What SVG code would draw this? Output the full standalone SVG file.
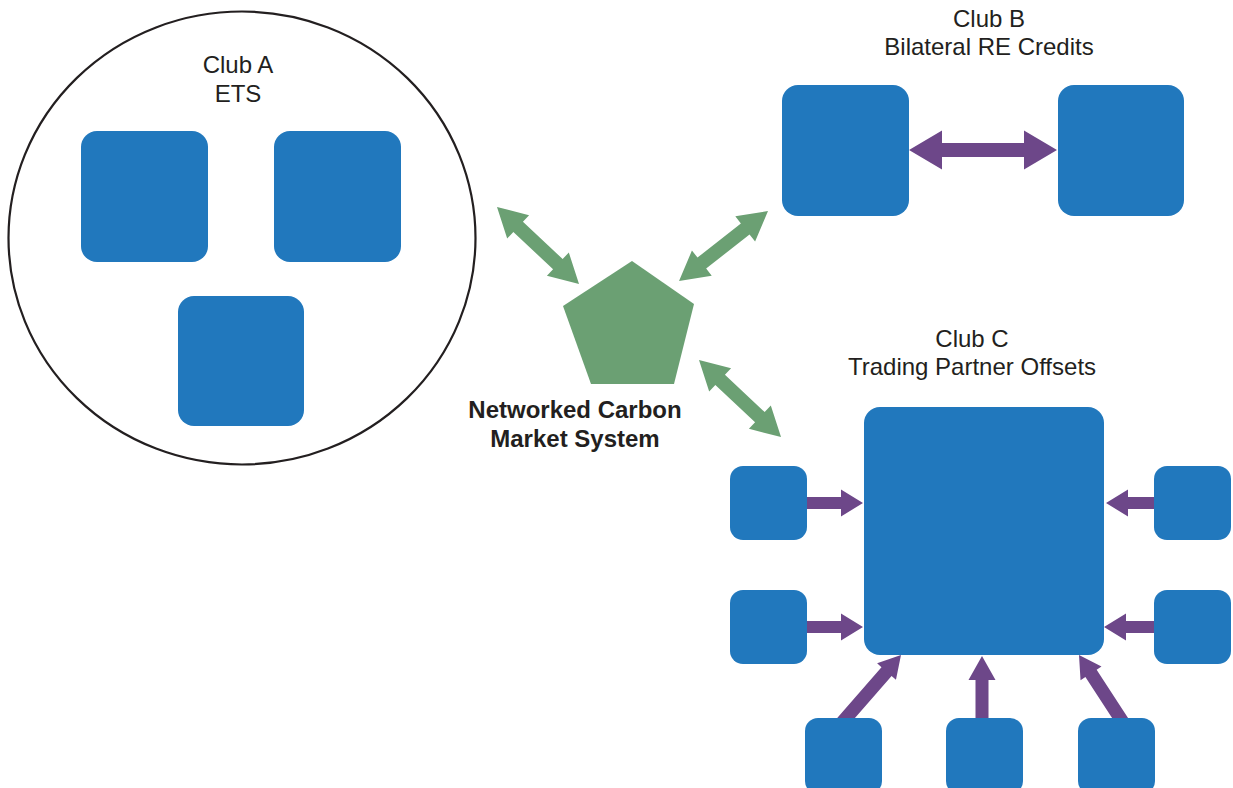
<svg xmlns="http://www.w3.org/2000/svg" width="1233" height="788" viewBox="0 0 1233 788">
<style>
.box{fill:#2178bd}
.green{fill:#6ba073}
.purple{fill:#6d4789}
.lbl{font-family:"Liberation Sans",Arial,sans-serif;font-size:24px;fill:#231f20;text-anchor:middle}
.bold{font-weight:bold}
</style>
<rect width="1233" height="788" fill="#fff"/>
<g id="connectors">
  <polygon class="green" points="0,0 29,-16 29,-7 83.5,-7 83.5,-16 112.5,0 83.5,16 83.5,7 29,7 29,16" transform="translate(497,207) rotate(43.2)"/>
  <polygon class="green" points="0,0 29,-16 29,-7 84.2,-7 84.2,-16 113.2,0 84.2,16 84.2,7 29,7 29,16" transform="translate(768,211) rotate(141.8)"/>
  <polygon class="green" points="0,0 29,-16 29,-7 83.5,-7 83.5,-16 112.5,0 83.5,16 83.5,7 29,7 29,16" transform="translate(699,360) rotate(43.2)"/>
  <polygon class="purple" points="909,150 942,130.5 942,143 1024,143 1024,130.5 1057,150 1024,169.5 1024,157 942,157 942,169.5"/>
  <polygon class="purple" points="800,497 841,497 841,489.5 863,503 841,516.5 841,509 800,509"/>
  <polygon class="purple" points="800,621 841,621 841,613.5 863,627 841,640.5 841,633 800,633"/>
  <polygon class="purple" points="1160,497 1128,497 1128,489.5 1106,503 1128,516.5 1128,509 1160,509"/>
  <polygon class="purple" points="1160,621 1126,621 1126,613.5 1104,627 1126,640.5 1126,633 1160,633"/>
  <polygon class="purple" points="975.5,725 975.5,680 968.5,680 982,656 995.5,680 988.5,680 988.5,725"/>
  <polygon class="purple" points="0,0 22,-12.5 22,-6.7 93,-6.7 93,6.7 22,6.7 22,12.5" transform="translate(901,655) rotate(131.1)"/>
  <polygon class="purple" points="0,0 22,-12.5 22,-6.7 84,-6.7 84,6.7 22,6.7 22,12.5" transform="translate(1079,655) rotate(56.9)"/>
</g>
<g id="clubA">
  <ellipse cx="242" cy="238" rx="233.5" ry="226.5" fill="none" stroke="#231f20" stroke-width="2.2"/>
  <text class="lbl" x="238" y="73">Club A</text>
  <text class="lbl" x="238" y="102">ETS</text>
  <rect id="a1" class="box" x="81" y="131" width="127" height="131" rx="16"/>
  <rect id="a2" class="box" x="274" y="131" width="127" height="131" rx="16"/>
  <rect id="a3" class="box" x="178" y="296" width="126" height="130" rx="16"/>
</g>
<g id="clubB">
  <text class="lbl" x="989" y="27">Club B</text>
  <text class="lbl" x="989" y="55">Bilateral RE Credits</text>
  <rect id="b1" class="box" x="782" y="85" width="127" height="131" rx="16"/>
  <rect id="b2" class="box" x="1058" y="85" width="126" height="131" rx="16"/>
</g>
<g id="hub">
  <polygon class="green" points="632,261 694,304 674,384 591,384 563,306"/>
  <text class="lbl bold" x="575" y="418">Networked Carbon</text>
  <text class="lbl bold" x="575" y="447">Market System</text>
</g>
<g id="clubC">
  <text class="lbl" x="972" y="347">Club C</text>
  <text class="lbl" x="972" y="375">Trading Partner Offsets</text>
  <rect id="c0" class="box" x="864" y="407" width="240" height="248" rx="16"/>
  <rect id="c1" class="box" x="730" y="466" width="77" height="74" rx="13"/>
  <rect id="c2" class="box" x="730" y="590" width="77" height="74" rx="13"/>
  <rect id="c3" class="box" x="1154" y="466" width="77" height="74" rx="13"/>
  <rect id="c4" class="box" x="1154" y="590" width="77" height="74" rx="13"/>
  <rect id="c5" class="box" x="805" y="718" width="77" height="76" rx="13"/>
  <rect id="c6" class="box" x="946" y="718" width="77" height="76" rx="13"/>
  <rect id="c7" class="box" x="1078" y="718" width="77" height="76" rx="13"/>
</g>
</svg>
